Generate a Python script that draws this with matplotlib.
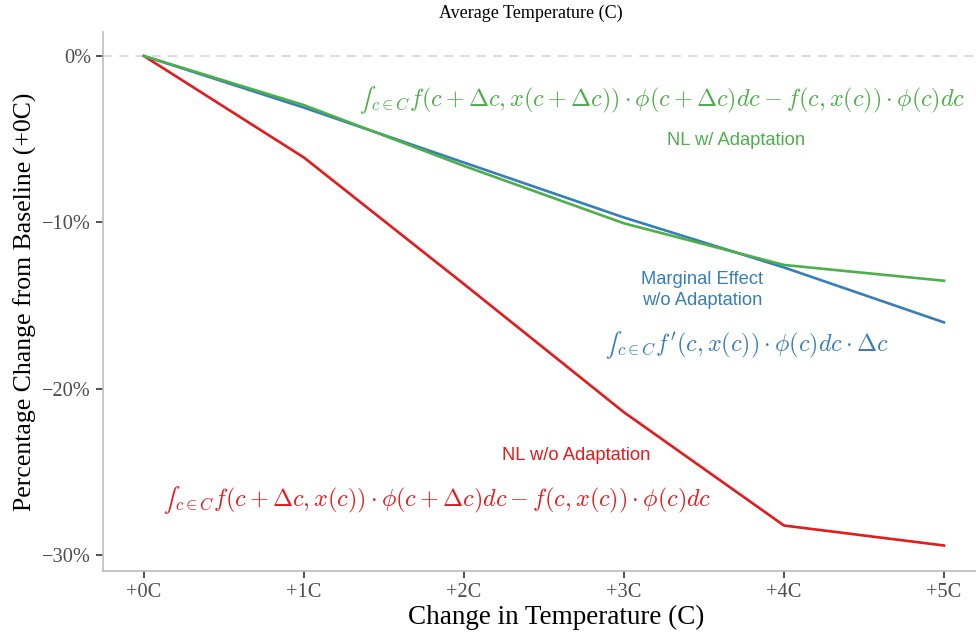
import matplotlib
matplotlib.use("Agg")
import matplotlib.pyplot as plt
from matplotlib.ticker import FuncFormatter

# data (percent change from baseline)
temp_change = [0, 1, 2, 3, 4, 5]
tick_labels = ["+0C", "+1C", "+2C", "+3C", "+4C", "+5C"]
nl_no_adapt = [0.0, -6.1, -13.7, -21.4, -28.2, -29.4]
marginal = [0.0, -3.1, -6.4, -9.7, -12.7, -16.0]
nl_adapt = [0.0, -2.95, -6.6, -10.05, -12.55, -13.5]

red = "#E41A1C"
blue = "#377EB8"
green = "#4DAF4A"

plt.rcParams["mathtext.fontset"] = "cm"
serif = ["Liberation Serif", "DejaVu Serif"]
sans = ["Liberation Sans", "DejaVu Sans"]

fig = plt.figure(figsize=(9.76, 6.34), dpi=100)
ax = fig.add_axes([0.1055, 0.0994, 0.8945, 0.8501])

ax.axhline(0, color="#d9d9d9", lw=1.3, ls=(0, (5, 4)), zorder=1)
ax.plot(temp_change, nl_no_adapt, color=red, lw=1.9, zorder=3)
ax.plot(temp_change, marginal, color=blue, lw=1.9, zorder=3)
ax.plot(temp_change, nl_adapt, color=green, lw=1.9, zorder=4)

ax.set_xlim(-0.256, 5.2)
ax.set_ylim(-30.93, 1.44)
ax.set_xticks(temp_change)
ax.set_xticklabels(tick_labels)
ax.set_yticks([0, -10, -20, -30])
ax.yaxis.set_major_formatter(FuncFormatter(
    lambda v, p: ("\u2212" if v < 0 else "") + "%d%%" % abs(v)))

for s in ["top", "right"]:
    ax.spines[s].set_visible(False)
for s in ["left", "bottom"]:
    ax.spines[s].set_color("#bebebe")
    ax.spines[s].set_linewidth(1.2)
ax.tick_params(length=5, width=1.2, color="#333333", labelcolor="#4d4d4d",
               labelsize=14.7)
for lab in ax.get_xticklabels() + ax.get_yticklabels():
    lab.set_family(serif)

ax.set_xlabel("Change in Temperature (C)", family=serif, fontsize=19.5)
ax.xaxis.set_label_coords(0.519, -0.062)
ax.set_ylabel("Percentage Change from Baseline (+0C)", family=serif, fontsize=18.5,
              labelpad=4)
ax.set_title("Average Temperature (C)", family=serif, fontsize=13, pad=10, x=0.49)

# annotations (unicode integral sign keeps it text-sized)
ax.text(3.24, -2.64,
        "$\u222b_{c{\\in}C}f(c+\\Delta c,x(c+\\Delta c))\\cdot\\phi(c+\\Delta c)dc-f(c,x(c))\\cdot\\phi(c)dc$",
        color=green, fontsize=17.4, ha="center", va="center")
ax.text(3.70, -5.05, "NL w/ Adaptation", color=green, family=sans,
        fontsize=13.2, ha="center", va="center")
ax.text(3.49, -14.05, "Marginal Effect\nw/o Adaptation", color=blue, family=sans,
        fontsize=13.2, ha="center", va="center", linespacing=1.25)
ax.text(3.77, -17.36, "$\u222b_{c{\\in}C}f'(c,x(c))\\cdot\\phi(c)dc\\cdot\\Delta c$",
        color=blue, fontsize=17.4, ha="center", va="center")
ax.text(2.70, -24.0, "NL w/o Adaptation", color=red, family=sans,
        fontsize=13.2, ha="center", va="center")
ax.text(1.83, -26.7,
        "$\u222b_{c{\\in}C}f(c+\\Delta c,x(c))\\cdot\\phi(c+\\Delta c)dc-f(c,x(c))\\cdot\\phi(c)dc$",
        color=red, fontsize=17.4, ha="center", va="center")

fig.savefig("out.png", dpi=100)
